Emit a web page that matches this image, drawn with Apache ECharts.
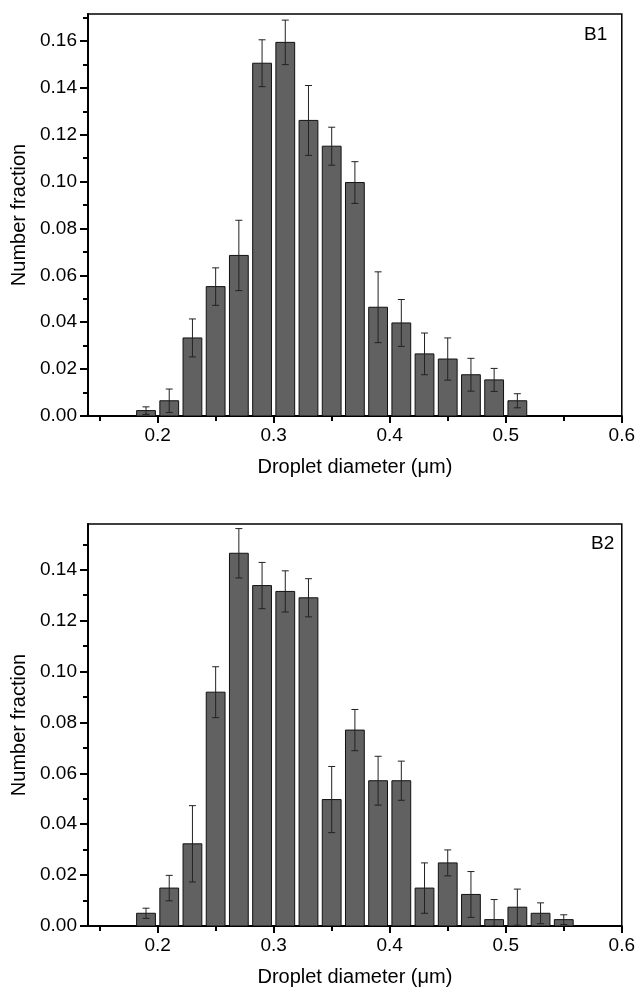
<!DOCTYPE html>
<html>
<head>
<meta charset="utf-8">
<script src="https://cdn.jsdelivr.net/npm/echarts@6/dist/echarts.min.js"></script>
<style>
html,body{margin:0;padding:0;background:#fff;}
#c{width:638px;height:988px;}
</style>
</head>
<body>
<div id="c"></div>
<script>
// ---- data ----
const b1Diameter = [0.19,0.21,0.23,0.25,0.27,0.29,0.31,0.33,0.35,0.37,0.39,0.41,0.43,0.45,0.47,0.49,0.51];
const b1Fraction = [0.0023,0.0065,0.0333,0.0552,0.0685,0.1505,0.1594,0.1261,0.1151,0.0996,0.0464,0.0397,0.0265,0.0243,0.0176,0.0154,0.0065];
const b1Error    = [0.0016,0.0050,0.0081,0.0080,0.0150,0.0100,0.0095,0.0149,0.0081,0.0089,0.0151,0.0100,0.0089,0.0090,0.0070,0.0049,0.0030];

const b2Diameter = [0.19,0.21,0.23,0.25,0.27,0.29,0.31,0.33,0.35,0.37,0.39,0.41,0.43,0.45,0.47,0.49,0.51,0.53,0.55];
const b2Fraction = [0.0050,0.0149,0.0323,0.0919,0.1465,0.1338,0.1315,0.1290,0.0497,0.0770,0.0571,0.0571,0.0149,0.0248,0.0124,0.0025,0.0074,0.0050,0.0025];
const b2Error    = [0.0020,0.0050,0.0150,0.0100,0.0097,0.0091,0.0081,0.0075,0.0130,0.0081,0.0096,0.0077,0.0099,0.0051,0.0090,0.0079,0.0071,0.0041,0.0019];

const xTickLabels = [0.2,0.3,0.4,0.5,0.6];
const xMinorTicks = [0.15,0.25,0.35,0.45,0.55];
const b1YTickLabels = [0,0.02,0.04,0.06,0.08,0.10,0.12,0.14,0.16];
const b1YMinorTicks = [0.01,0.03,0.05,0.07,0.09,0.11,0.13,0.15,0.17];
const b2YTickLabels = [0,0.02,0.04,0.06,0.08,0.10,0.12,0.14];
const b2YMinorTicks = [0.01,0.03,0.05,0.07,0.09,0.11,0.13,0.15];

const xTitle = 'Droplet diameter (\u03bcm)';
const yTitle = 'Number fraction';

// ---- styles ----
const FONT = 'Liberation Sans, Arial, Helvetica, sans-serif';
const HALF = 0.0081;

function render(params, api) {
  const x = api.value(0), v = api.value(1), e = api.value(2);
  const p0 = api.coord([x - HALF, v]);
  const p1 = api.coord([x + HALF, 0]);
  const top = api.coord([x, v + e]);
  const bot = api.coord([x, Math.max(0, v - e)]);
  const cap = 3.5;
  return {
    type: 'group',
    children: [
      {type:'rect', shape:{x:p0[0], y:p0[1], width:p1[0]-p0[0], height:p1[1]-p0[1]},
       style:{fill:'#616161', stroke:'#111', lineWidth:1}},
      {type:'line', shape:{x1:top[0], y1:top[1], x2:bot[0], y2:bot[1]}, style:{stroke:'#222', lineWidth:1}},
      {type:'line', shape:{x1:top[0]-cap, y1:top[1], x2:top[0]+cap, y2:top[1]}, style:{stroke:'#222', lineWidth:1}},
      {type:'line', shape:{x1:bot[0]-cap, y1:bot[1], x2:bot[0]+cap, y2:bot[1]}, style:{stroke:'#222', lineWidth:1}}
    ]
  };
}

function xAxes(gi) {
  return [
    {type:'value', gridIndex:gi, position:'bottom', min:0.14, max:0.6,
     name:xTitle, nameLocation:'middle', nameGap:41,
     nameTextStyle:{fontFamily:FONT, fontSize:20, color:'#000'},
     axisLine:{show:true, onZero:false, lineStyle:{color:'#000', width:2}},
     axisTick:{show:true, inside:false, length:7, customValues:xTickLabels, lineStyle:{color:'#000', width:2}},
     axisLabel:{show:true, margin:10, customValues:xTickLabels, fontFamily:FONT, fontSize:19, color:'#000',
       formatter:(v)=>v.toFixed(1), showMaxLabel:true, showMinLabel:true},
     splitLine:{show:false}},
    {type:'value', gridIndex:gi, position:'bottom', min:0.14, max:0.6,
     axisLine:{show:false},
     axisTick:{show:true, inside:false, length:5, customValues:xMinorTicks, lineStyle:{color:'#000', width:2}},
     axisLabel:{show:false}, splitLine:{show:false}}
  ];
}
function yAxes(gi, max, labels, minor) {
  return [
    {type:'value', gridIndex:gi, position:'left', min:0, max:max,
     name:yTitle, nameLocation:'middle', nameGap:58,
     nameTextStyle:{fontFamily:FONT, fontSize:20, color:'#000'},
     axisLine:{show:true, onZero:false, lineStyle:{color:'#000', width:2}},
     axisTick:{show:true, inside:false, length:8, customValues:labels, lineStyle:{color:'#000', width:2}},
     axisLabel:{show:true, margin:11, customValues:labels, fontFamily:FONT, fontSize:19, color:'#000',
       formatter:(v)=>v.toFixed(2)},
     splitLine:{show:false}},
    {type:'value', gridIndex:gi, position:'left', min:0, max:max,
     axisLine:{show:false},
     axisTick:{show:true, inside:false, length:5, customValues:minor, lineStyle:{color:'#000', width:2}},
     axisLabel:{show:false}, splitLine:{show:false}}
  ];
}

function seriesData(d, f, e) { return d.map((x,i)=>[x, f[i], e[i]]); }

const chart = echarts.init(document.getElementById('c'), null, {renderer:'canvas'});
chart.setOption({
  animation:false,
  backgroundColor:'#fff',
  grid:[
    {left:88, top:14, width:536, height:402, show:true, borderColor:'#000', borderWidth:1.5, backgroundColor:'transparent'},
    {left:88, top:524, width:535.5, height:403, show:true, borderColor:'#000', borderWidth:1.5, backgroundColor:'transparent'}
  ],
  xAxis:[...xAxes(0), ...xAxes(1)],
  yAxis:[...yAxes(0, 0.1715, b1YTickLabels, b1YMinorTicks), ...yAxes(1, 0.158, b2YTickLabels, b2YMinorTicks)],
  series:[
    {type:'custom', name:'B1', xAxisIndex:0, yAxisIndex:0, clip:true, renderItem:render,
     encode:{x:0, y:1}, data:seriesData(b1Diameter, b1Fraction, b1Error)},
    {type:'custom', name:'B2', xAxisIndex:2, yAxisIndex:2, clip:true, renderItem:render,
     encode:{x:0, y:1}, data:seriesData(b2Diameter, b2Fraction, b2Error)}
  ],
  graphic:[
    {type:'text', left:584, top:25, style:{text:'B1', font:'19px ' + FONT, fill:'#000'}},
    {type:'text', left:591, top:534, style:{text:'B2', font:'19px ' + FONT, fill:'#000'}}
  ]
});
</script>
</body>
</html>
